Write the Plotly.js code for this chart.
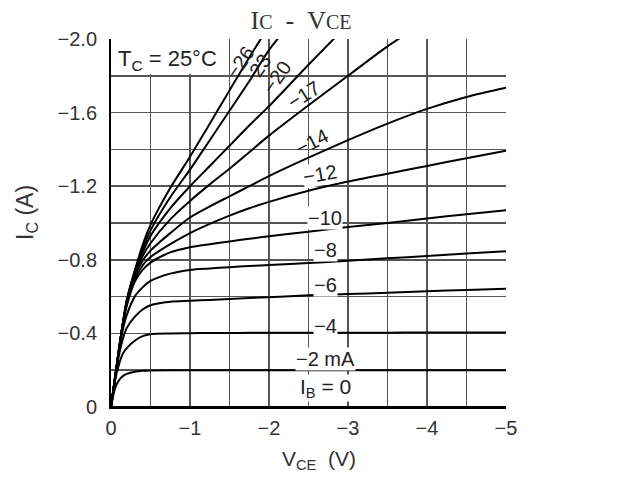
<!DOCTYPE html>
<html>
<head>
<meta charset="utf-8">
<script src="https://cdn.plot.ly/plotly-3.0.1.min.js"></script>
<style>html,body{margin:0;padding:0;background:#fff;}#chart{width:624px;height:478px;}</style>
</head>
<body>
<div id="chart"></div>
<script>
// V_CE (V)
const vce = [0, -0.05, -0.1, -0.15, -0.2, -0.3, -0.4, -0.5, -0.75, -1, -1.25, -1.5, -1.75, -2, -2.5, -3, -3.5, -4, -4.5, -5];
// I_C (A) for each base current
const ib0  = [0, 0, 0, 0, 0, 0, 0, 0, 0, 0, 0, 0, 0, 0, 0, 0, 0, 0, 0, 0];
const ib2  = [0, -0.1, -0.145, -0.168, -0.18, -0.192, -0.197, -0.199, -0.2, -0.2, -0.2, -0.2, -0.2, -0.2, -0.2, -0.2, -0.2, -0.2, -0.2, -0.2];
const ib4  = [0, -0.14, -0.23, -0.29, -0.32, -0.36, -0.385, -0.396, -0.4, -0.401, -0.402, -0.402, -0.403, -0.403, -0.403, -0.404, -0.404, -0.405, -0.405, -0.405];
const ib6  = [0, -0.15, -0.28, -0.37, -0.43, -0.49, -0.53, -0.553, -0.572, -0.577, -0.582, -0.587, -0.592, -0.597, -0.607, -0.614, -0.621, -0.629, -0.636, -0.643];
const ib8  = [0, -0.155, -0.3, -0.42, -0.5, -0.6, -0.65, -0.685, -0.725, -0.745, -0.753, -0.76, -0.766, -0.772, -0.782, -0.795, -0.808, -0.821, -0.834, -0.846];
const ib10 = [0, -0.155, -0.31, -0.45, -0.55, -0.68, -0.745, -0.785, -0.84, -0.868, -0.885, -0.9, -0.914, -0.928, -0.953, -0.978, -1.0, -1.025, -1.047, -1.069];
const ib12 = [0, -0.155, -0.31, -0.45, -0.56, -0.695, -0.77, -0.815, -0.885, -0.945, -0.995, -1.04, -1.08, -1.115, -1.175, -1.225, -1.268, -1.31, -1.352, -1.393];
const ib14 = [0, -0.155, -0.31, -0.45, -0.565, -0.71, -0.795, -0.85, -0.945, -1.03, -1.09, -1.145, -1.2, -1.255, -1.355, -1.45, -1.54, -1.62, -1.685, -1.735];
const ib17 = [0, -0.155, -0.31, -0.45, -0.57, -0.72, -0.82, -0.89, -1.02, -1.12, -1.21, -1.295, -1.385, -1.475, -1.64, -1.8, -1.96, -2.1];
const ib20 = [0, -0.155, -0.31, -0.455, -0.575, -0.73, -0.84, -0.93, -1.08, -1.2, -1.31, -1.42, -1.53, -1.635, -1.86, -2.08];
const ib23 = [0, -0.155, -0.31, -0.455, -0.58, -0.735, -0.86, -0.96, -1.14, -1.29, -1.45, -1.61, -1.77, -1.94, -2.2];
const ib26 = [0, -0.155, -0.31, -0.455, -0.585, -0.74, -0.88, -0.99, -1.19, -1.36, -1.54, -1.72, -1.9, -2.07];

const curves = [ib0, ib2, ib4, ib6, ib8, ib10, ib12, ib14, ib17, ib20, ib23, ib26];
const curveNames = ['0', '-2', '-4', '-6', '-8', '-10', '-12', '-14', '-17', '-20', '-23', '-26'];

// curve labels
const labelText = ['\u221226', '\u221223', '\u221220', '\u221217', '\u221214', '\u221212', '\u221210', '\u22128', '\u22126', '\u22124', '\u22122 mA', 'I<sub>B</sub> = 0'];
const labelV = [-1.637, -1.848, -2.10, -2.44, -2.544, -2.65, -2.713, -2.713, -2.713, -2.713, -2.713, -2.713];
const labelI = [-1.874, -1.830, -1.793, -1.694, -1.44, -1.267, -1.028, -0.854, -0.661, -0.438, -0.263, -0.104];

// axis ticks
const xTickVals = [0, -0.5, -1, -1.5, -2, -2.5, -3, -3.5, -4, -4.5, -5];
const xTickText = ['0', '', '\u22121', '', '\u22122', '', '\u22123', '', '\u22124', '', '\u22125'];
const yTickVals = [0, -0.2, -0.4, -0.6, -0.8, -1.0, -1.2, -1.4, -1.6, -1.8, -2.0];
const yTickText = ['0', '', '\u22120.4', '', '\u22120.8', '', '\u22121.2', '', '\u22121.6', '', '\u22122.0'];
const xTitle = 'V<sub>CE</sub>\u00a0\u00a0(V)';
const yTitle = 'I<sub>C</sub> (A)';

const labelAngles = [-55, -55, -55, -32, -27, -10, 0, 0, 0, 0, 0, 0];
const labelBg = [false, false, false, false, false, true, true, true, true, true, true, true];

const FONT = 'Arial, "Liberation Sans", sans-serif';

const traces = curves.map((ic, i) => ({
  x: vce.slice(0, ic.length), y: ic, name: curveNames[i],
  type: 'scatter', mode: 'lines',
  line: {color: '#000', width: 2, shape: 'spline', smoothing: 0.8},
  hoverinfo: 'skip', showlegend: false
}));

const annotations = labelText.map((t, i) => ({
  x: labelV[i], y: labelI[i], xref: 'x', yref: 'y', text: t, showarrow: false,
  textangle: labelAngles[i], xanchor: 'center', yanchor: 'middle',
  font: {family: FONT, size: i === 11 ? 21 : 20, color: '#222'},
  bgcolor: labelBg[i] ? '#fff' : 'rgba(0,0,0,0)', borderpad: 0
}));
annotations.push({
  x: -0.72, y: -1.885, xref: 'x', yref: 'y', text: 'T<sub>C</sub> = 25\u00b0C', showarrow: false,
  xanchor: 'center', yanchor: 'middle',
  font: {family: FONT, size: 22, color: '#222'}
});
// axis titles
annotations.push({
  x: 0.5266, y: -0.144, xref: 'paper', yref: 'paper', text: xTitle, showarrow: false,
  xanchor: 'center', yanchor: 'middle', font: {family: FONT, size: 21, color: '#333'}
});
annotations.push({
  x: -0.2127, y: 0.53, xref: 'paper', yref: 'paper', text: yTitle, showarrow: false,
  textangle: -90, xanchor: 'center', yanchor: 'middle', font: {family: FONT, size: 23, color: '#333'}
});

const layout = {
  width: 624, height: 478,
  margin: {l: 111, r: 118, t: 39, b: 71, pad: 0},
  paper_bgcolor: '#fff', plot_bgcolor: '#fff',
  title: {
    text: 'I<span style="font-size:20px">C</span>\u00a0\u00a0-\u00a0\u00a0V<span style="font-size:20px">CE</span>',
    font: {family: '"Liberation Serif", "DejaVu Serif", serif', size: 26, color: '#333'},
    x: 301 / 624, xanchor: 'center', y: 1 - 20 / 478, yanchor: 'middle'
  },
  xaxis: {
    range: [0, -5], tickmode: 'array', tickvals: xTickVals, ticktext: xTickText,
    showgrid: true, gridcolor: '#555', gridwidth: 1.7, zeroline: false,
    showline: true, linecolor: '#000', linewidth: 2, ticks: '',
    ticklabelstandoff: 2,
    tickfont: {family: FONT, size: 20, color: '#333'}
  },
  yaxis: {
    range: [0, -2], tickmode: 'array', tickvals: yTickVals, ticktext: yTickText,
    showgrid: true, gridcolor: '#555', gridwidth: 1.7, zeroline: false,
    showline: true, linecolor: '#000', linewidth: 2, ticks: '',
    ticklabelstandoff: 8,
    tickfont: {family: FONT, size: 20, color: '#333'}
  },
  shapes: [{
    type: 'rect', xref: 'x', yref: 'y', x0: 0, x1: -1.35, y0: -1.81, y1: -2.0,
    fillcolor: '#fff', line: {width: 0}, layer: 'between'
  }],
  annotations: annotations
};

Plotly.newPlot('chart', traces, layout, {staticPlot: true, displayModeBar: false});
</script>
</body>
</html>
